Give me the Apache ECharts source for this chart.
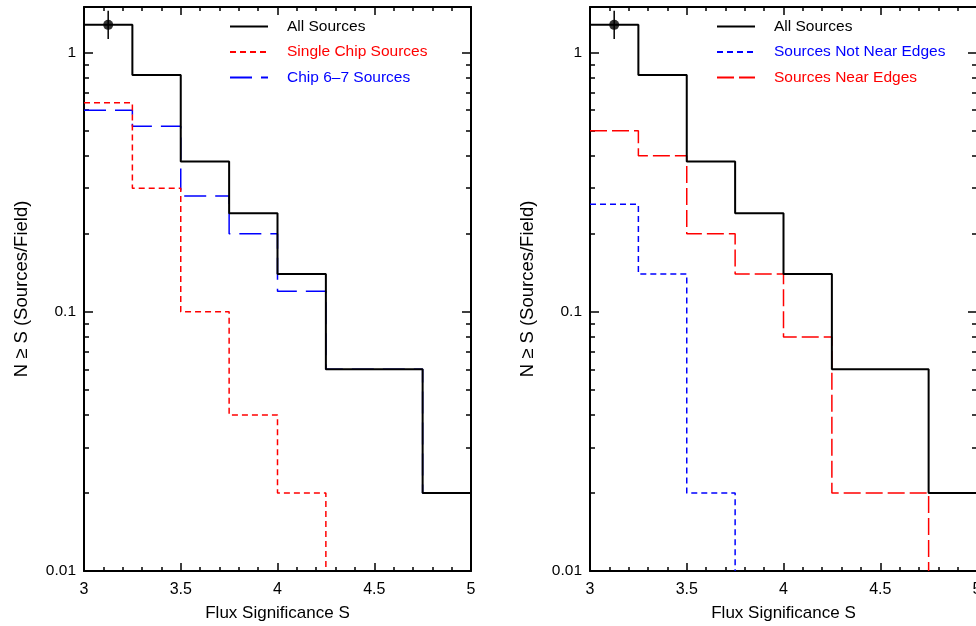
<!DOCTYPE html>
<html>
<head>
<meta charset="utf-8">
<script src="https://cdn.jsdelivr.net/npm/echarts@6/dist/echarts.min.js"></script>
<style>html,body{margin:0;padding:0;background:#fff}#c{width:976px;height:626px}</style>
</head>
<body>
<div id="c"></div>
<script>
// ---- data ----
const binEdges = [3, 3.25, 3.5, 3.75, 4, 4.25, 4.5, 4.75, 5];
const allSources = [1.28, 0.82, 0.38, 0.24, 0.14, 0.06, 0.06, 0.02];
const singleChip = [0.64, 0.30, 0.10, 0.04, 0.02, 0.01];
const chip67 = [0.60, 0.52, 0.28, 0.20, 0.12, 0.06, 0.06, 0.02];
const notNearEdges = [0.26, 0.14, 0.02, 0.01];
const nearEdges = [0.50, 0.40, 0.20, 0.14, 0.08, 0.02, 0.02, 0.01];
const errX = [3.125];
const errY = [1.28];
const errLow = [1.13];
const errHigh = [1.45];
const xTicks = [3, 3.5, 4, 4.5, 5];
const yMajor = [0.01, 0.1, 1];
const yMinor = [0.02,0.03,0.04,0.05,0.06,0.07,0.08,0.09,0.2,0.3,0.4,0.5,0.6,0.7,0.8,0.9];

// vals[i] is the level starting at binEdges[i]; closeRight extends the last level to the next edge
function stepData(vals, closeRight) {
  const d = vals.map((v, i) => [binEdges[i], v]);
  if (closeRight) d.push([binEdges[vals.length], vals[vals.length - 1]]);
  return d;
}

const FONT = 'Liberation Sans, Arial, Helvetica, sans-serif';
const grids = [
  {left: 84, top: 7, width: 387, height: 564, outerBoundsMode: 'none', containLabel: false},
  {left: 590, top: 7, width: 387, height: 564, outerBoundsMode: 'none', containLabel: false}
];
const xAxes = [], yAxes = [];
grids.forEach((g, gi) => {
  ['bottom', 'top'].forEach(pos => {
    xAxes.push({
      type: 'value', gridIndex: gi, position: pos, min: 3, max: 5, interval: 0.5,
      name: pos === 'bottom' ? 'Flux Significance S' : '',
      nameLocation: 'middle', nameGap: 34,
      nameTextStyle: {color: '#000', fontSize: 17, fontFamily: FONT},
      axisLine: {show: true, onZero: false, lineStyle: {color: '#000', width: 2}},
      axisTick: {show: true, inside: true, length: 8, lineStyle: {color: '#000', width: 1.5}},
      minorTick: {show: true, splitNumber: 5, length: 4, lineStyle: {color: '#000', width: 1.5}},
      axisLabel: {show: pos === 'bottom', color: '#000', fontSize: 16, fontFamily: FONT, margin: 11,
        customValues: xTicks, formatter: v => String(v)},
      splitLine: {show: false}
    });
  });
  ['left', 'right'].forEach(pos => {
    yAxes.push({
      type: 'log', logBase: 10, gridIndex: gi, position: pos, min: 0.01, max: 1.5,
      name: pos === 'left' ? 'N ≥ S (Sources/Field)' : '',
      nameLocation: 'middle', nameGap: 53, nameRotate: 90,
      nameTextStyle: {color: '#000', fontSize: 18.5, fontFamily: FONT},
      axisLine: {show: true, onZero: false, lineStyle: {color: '#000', width: 2}},
      axisTick: {show: true, inside: true, length: 9, customValues: yMajor, lineStyle: {color: '#000', width: 1.5}},
      axisLabel: {show: pos === 'left', color: '#000', fontSize: 15.5, fontFamily: FONT, margin: 8,
        customValues: yMajor, formatter: v => String(v)},
      splitLine: {show: false}
    });
    yAxes.push({
      type: 'log', logBase: 10, gridIndex: gi, position: pos, min: 0.01, max: 1.5,
      axisLine: {show: false},
      axisTick: {show: true, inside: true, length: 5, customValues: yMinor, lineStyle: {color: '#000', width: 1.5}},
      axisLabel: {show: false},
      splitLine: {show: false}
    });
  });
});

function stepSeries(name, vals, closeRight, gi, color, width, dash, z) {
  return {
    name: name, type: 'line', step: 'end', xAxisIndex: gi * 2, yAxisIndex: gi * 4,
    data: stepData(vals, closeRight), symbol: 'none', showSymbol: false, z: z, silent: true,
    lineStyle: {color: color, width: width, type: dash}, itemStyle: {color: color}
  };
}
function errSeries(gi) {
  return [
    {name: 'err' + gi, type: 'line', xAxisIndex: gi * 2, yAxisIndex: gi * 4, symbol: 'none', z: 10, silent: true,
     data: [[errX[0], errLow[0]], [errX[0], errHigh[0]]], lineStyle: {color: '#000', width: 1.5}},
    {name: 'pt' + gi, type: 'scatter', xAxisIndex: gi * 2, yAxisIndex: gi * 4, symbolSize: 10, z: 11, silent: true,
     data: [[errX[0], errY[0]]], itemStyle: {color: '#000'}}
  ];
}

const series = [
  stepSeries('Chip 6–7 Sources', chip67, true, 0, '#0000ff', 1.5, [22, 9], 3),
  stepSeries('Single Chip Sources', singleChip, false, 0, '#ff0000', 1.5, [6, 4], 4),
  stepSeries('All Sources', allSources, true, 0, '#000000', 2, 'solid', 5),
  ...errSeries(0),
  stepSeries('Sources Not Near Edges', notNearEdges, false, 1, '#0000ff', 1.5, [6, 4], 3),
  stepSeries('Sources Near Edges', nearEdges, false, 1, '#ff0000', 1.5, [17, 5], 4),
  stepSeries('All Sources', allSources, true, 1, '#000000', 2, 'solid', 5),
  ...errSeries(1)
];

const hiddenSymbol = {color: 'rgba(0,0,0,0)', borderColor: 'rgba(0,0,0,0)', borderWidth: 0};
function legend(left, items) {
  return {
    orient: 'vertical', left: left, top: 18.5, padding: 0, itemWidth: 38, itemHeight: 14, itemGap: 9.5,
    selectedMode: false,
    itemStyle: hiddenSymbol,
    textStyle: {fontSize: 15.5, fontFamily: FONT, padding: [0, 0, 0, 14]},
    data: items.map(it => ({name: it[0], itemStyle: hiddenSymbol, textStyle: {color: it[1]}}))
  };
}

const chart = echarts.init(document.getElementById('c'), null, {renderer: 'canvas'});
chart.setOption({
  animation: false,
  backgroundColor: '#fff',
  grid: grids,
  xAxis: xAxes,
  yAxis: yAxes,
  legend: [
    legend(229, [['All Sources', '#000'], ['Single Chip Sources', '#ff0000'], ['Chip 6–7 Sources', '#0000ff']]),
    legend(716, [['All Sources', '#000'], ['Sources Not Near Edges', '#0000ff'], ['Sources Near Edges', '#ff0000']])
  ],
  series: series
});
</script>
</body>
</html>
